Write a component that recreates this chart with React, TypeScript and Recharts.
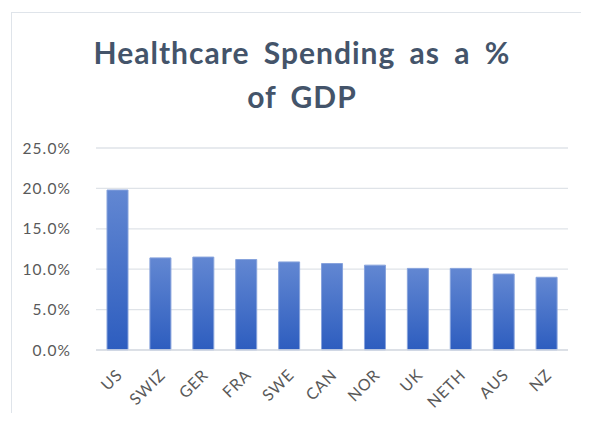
import React from "react";
import { BarChart, Bar, XAxis, YAxis, CartesianGrid } from "recharts";

const countries = ["US", "SWIZ", "GER", "FRA", "SWE", "CAN", "NOR", "UK", "NETH", "AUS", "NZ"];
const spending = [19.8, 11.4, 11.5, 11.2, 10.9, 10.7, 10.5, 10.1, 10.1, 9.4, 9.0];
const yTicks = [0, 5, 10, 15, 20, 25];
const titleLines = ["Healthcare Spending as a %", "of GDP"];

const data = countries.map((c, i) => ({ country: c, value: spending[i] }));

const FONT = "Lato, 'Open Sans', sans-serif";

const XTick = (props: any) => {
  const { x, y, payload } = props;
  const ax = x + 6;
  const ay = y + 18;
  return (
    <text
      x={ax}
      y={ay}
      textAnchor="end"
      transform={`rotate(-45, ${ax}, ${ay})`}
      fill="#595959"
      fontSize={16}
      letterSpacing={0.8}
      fontFamily={FONT}
    >
      {payload.value}
    </text>
  );
};

export default function App() {
  return (
    <div style={{ position: "relative", margin: -8, width: 589, height: 421, background: "#fff", overflow: "hidden" }}>
      <div
        style={{
          position: "absolute",
          left: 11,
          top: 12,
          width: 620,
          height: 440,
          border: "1.5px solid #dfe4ea",
          boxSizing: "border-box",
        }}
      />
      <div
        style={{
          position: "absolute",
          left: 0,
          top: 30,
          width: 604,
          textAlign: "center",
          fontFamily: FONT,
          fontWeight: 700,
          fontSize: 30,
          lineHeight: "44px",
          letterSpacing: 1,
          wordSpacing: 6,
          color: "#44546a",
        }}
      >
        {titleLines.map((l, i) => (
          <div key={i}>{l}</div>
        ))}
      </div>
      <BarChart
        width={589}
        height={421}
        data={data}
        margin={{ top: 148, right: 21, bottom: 0, left: 0 }}
        barSize={21}
        style={{ position: "absolute", left: 0, top: 0 }}
      >
        <defs>
          <linearGradient id="barGrad" x1="0" y1="0" x2="0" y2="1">
            <stop offset="0%" stopColor="#6287d2" />
            <stop offset="100%" stopColor="#2d5dbf" />
          </linearGradient>
        </defs>
        <CartesianGrid vertical={false} stroke="#dfe3e8" strokeWidth={1.3} />
        <XAxis
          dataKey="country"
          height={71}
          interval={0}
          tickLine={false}
          axisLine={{ stroke: "#d9dde3", strokeWidth: 1.3 }}
          tick={<XTick />}
        />
        <YAxis
          width={96}
          domain={[0, 25]}
          ticks={yTicks}
          tickFormatter={(v: number) => `${v.toFixed(1)}%`}
          axisLine={false}
          tickLine={false}
          tickMargin={19}
          tick={{ fill: "#595959", fontSize: 15.5, fontFamily: FONT, letterSpacing: 1.1 }}
        />
        <Bar
          dataKey="value"
          fill="url(#barGrad)"
          stroke="#87a3dc"
          strokeWidth={1}
          isAnimationActive={false}
        />
      </BarChart>
    </div>
  );
}
